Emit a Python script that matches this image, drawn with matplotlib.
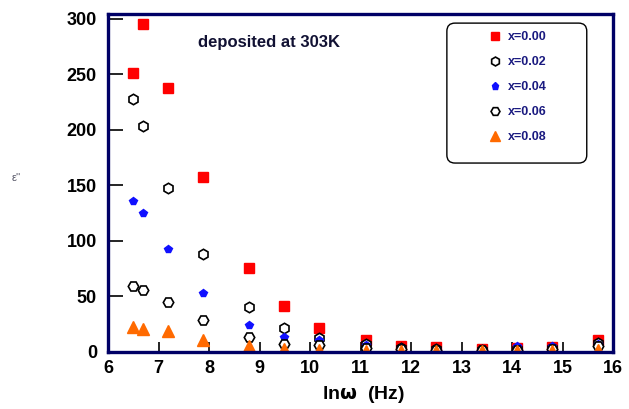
import matplotlib
matplotlib.use("Agg")
import matplotlib.pyplot as plt
from matplotlib.patches import FancyBboxPatch

plt.rcParams['font.family'] = ['Liberation Sans', 'DejaVu Sans']

# ln(omega) positions
ln_w = [6.49, 6.69, 7.19, 7.89, 8.80, 9.49, 10.18, 11.11, 11.80, 12.50, 13.40, 14.09, 14.79, 15.71]

# eps'' for each composition
eps_000 = [251.6, 295.5, 238.0, 158.0, 76.0, 41.5, 22.0, 10.5, 5.5, 4.2, 2.5, 3.5, 4.5, 10.5]
eps_002 = [227.6, 204.0, 148.0, 88.3, 40.8, 21.3, 12.5, 7.5, 4.0, 3.0, 2.0, 3.0, 4.0, 8.0]
eps_004 = [136.3, 125.5, 92.8, 53.5, 24.6, 13.8, 10.5, 6.0, 3.5, 2.5, 2.5, 5.5, 5.5, 7.0]
eps_006 = [59.5, 56.0, 45.0, 29.0, 13.8, 7.5, 6.3, 4.0, 2.5, 2.0, 1.5, 2.0, 3.0, 5.0]
eps_008 = [22.8, 20.7, 19.2, 10.5, 5.4, 2.4, 1.8, 1.0, 1.0, 1.0, 1.0, 1.0, 1.0, 1.5]

labels = ['x=0.00', 'x=0.02', 'x=0.04', 'x=0.06', 'x=0.08']

fig = plt.figure(figsize=(6.29, 4.09), dpi=100)
ax = fig.add_axes([0.1717, 0.1394, 0.8029, 0.8264])

ax.plot(ln_w, eps_000, 's', color='#ff0000', markersize=6.5, label=labels[0])
ax.plot(ln_w, eps_002, 'h', markerfacecolor='white', markeredgecolor='black',
        markeredgewidth=1.2, markersize=7.5, label=labels[1])
ax.plot(ln_w, eps_004, 'p', color='#1010ff', markersize=6, label=labels[2])
ax.plot(ln_w, eps_006, 'H', markerfacecolor='white', markeredgecolor='black',
        markeredgewidth=1.2, markersize=7.5, label=labels[3])
ax.plot(ln_w, eps_008, '^', color='#ff6a00', markersize=8, label=labels[4])

ax.set_xlim(6, 16)
ax.set_ylim(0, 304.5)
ax.set_xticks(range(6, 17))
ax.set_yticks(range(0, 301, 50))

for s in ax.spines.values():
    s.set_color('#000066')
    s.set_linewidth(2.4)

ax.tick_params(axis='y', direction='in', length=11, width=1.2, color='black',
               labelsize=13, pad=8)
ax.tick_params(axis='x', direction='in', length=7, width=1.2, color='black',
               labelsize=13, pad=6)
for t in ax.get_xticklabels() + ax.get_yticklabels():
    t.set_fontweight('bold')

ax.set_xlabel(r'ln$\mathbf{\omega}$  (Hz)', fontsize=14, fontweight='bold')
ax.xaxis.set_label_coords(0.505, -0.095)
ax.set_ylabel("ε''", fontsize=8, color='#555566', rotation=0)
ax.yaxis.set_label_coords(-0.182, 0.50)

ax.text(0.178, 0.915, 'deposited at 303K', transform=ax.transAxes,
        fontsize=12, fontweight='bold', color='#111133', va='center')

# rounded legend box
box = FancyBboxPatch((0.671, 0.559), 0.277, 0.414, transform=ax.transAxes,
                     boxstyle='round,pad=0,rounding_size=0.016', mutation_aspect=1.5,
                     facecolor='white', edgecolor='black', linewidth=1.0, zorder=3)
ax.add_patch(box)

leg = ax.legend(loc='upper left', bbox_to_anchor=(0.754, 0.95), frameon=False,
                borderpad=0, borderaxespad=0, handlelength=1.0, handletextpad=0.55,
                labelspacing=1.05, markerscale=0.85, prop={'size': 9, 'weight': 'bold'})
leg.set_zorder(4)
for t in leg.get_texts():
    t.set_color('#1a1a80')

plt.savefig('out.png', dpi=100)
